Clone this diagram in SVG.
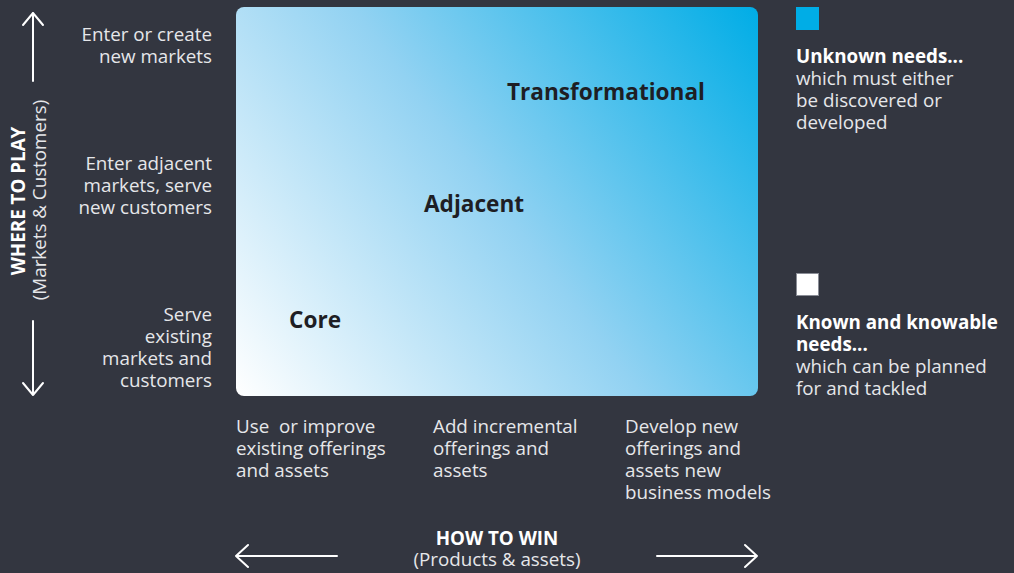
<svg xmlns="http://www.w3.org/2000/svg" width="1014" height="573" viewBox="0 0 1014 573">
<defs>
<linearGradient id="grad" x1="236" y1="396" x2="758" y2="7" gradientUnits="userSpaceOnUse">
<stop offset="0" stop-color="#ffffff"/>
<stop offset="0.5" stop-color="#92d2f2"/>
<stop offset="1" stop-color="#00ade6"/>
</linearGradient>
<style>
text{font-family:"Open Sans","Noto Sans","Liberation Sans",sans-serif;}
.lbl{font-size:18.8px;fill:#e6e7ea;}
.r{text-anchor:end;}
.b{font-weight:bold;fill:#ffffff;}
.zone{font-size:22.6px;font-weight:bold;fill:#1e1e24;}
.ax{stroke:#ffffff;stroke-width:2;fill:none;stroke-linecap:round;stroke-linejoin:round;}
</style>
</defs>
<rect width="1014" height="573" fill="#333640"/>
<g id="matrix">
<rect x="236" y="7" width="522" height="389" rx="8" fill="url(#grad)"/>
<text class="zone" x="507" y="100">Transformational</text>
<text class="zone" x="424" y="212">Adjacent</text>
<text class="zone" x="289" y="328">Core</text>
</g>
<g id="connectors">
<path class="ax" d="M33 81V13M23 25L33 13L43 25"/>
<path class="ax" d="M33 321V395M23 383L33 395L43 383"/>
<path class="ax" d="M337 556H236M248 545L236 556L248 567"/>
<path class="ax" d="M657 556H757M745 545L757 556L745 567"/>
</g>
<g id="y-axis-title">
<text transform="translate(25 201) rotate(-90)" text-anchor="middle" class="lbl b">WHERE TO PLAY</text>
<text transform="translate(46 200) rotate(-90)" text-anchor="middle" class="lbl">(Markets &amp; Customers)</text>
</g>
<g id="y-labels">
<text class="lbl r" x="212" y="41">Enter or create</text>
<text class="lbl r" x="212" y="63">new markets</text>
<text class="lbl r" x="212" y="170">Enter adjacent</text>
<text class="lbl r" x="212" y="192">markets, serve</text>
<text class="lbl r" x="212" y="214">new customers</text>
<text class="lbl r" x="212" y="321">Serve</text>
<text class="lbl r" x="212" y="343">existing</text>
<text class="lbl r" x="212" y="365">markets and</text>
<text class="lbl r" x="212" y="387">customers</text>
</g>
<g id="x-labels">
<text class="lbl" x="236" y="433" xml:space="preserve">Use  or improve</text>
<text class="lbl" x="236" y="455">existing offerings</text>
<text class="lbl" x="236" y="477">and assets</text>
<text class="lbl" x="433" y="433">Add incremental</text>
<text class="lbl" x="433" y="455">offerings and</text>
<text class="lbl" x="433" y="477">assets</text>
<text class="lbl" x="625" y="433">Develop new</text>
<text class="lbl" x="625" y="455">offerings and</text>
<text class="lbl" x="625" y="477">assets new</text>
<text class="lbl" x="625" y="499">business models</text>
</g>
<g id="x-axis-title">
<text class="lbl b" x="497" y="545" text-anchor="middle">HOW TO WIN</text>
<text class="lbl" x="497" y="566" text-anchor="middle">(Products &amp; assets)</text>
</g>
<g id="legend-unknown">
<rect x="796" y="7" width="23" height="23" fill="#00ade6"/>
<text class="lbl b" x="796" y="63">Unknown needs...</text>
<text class="lbl" x="796" y="85">which must either</text>
<text class="lbl" x="796" y="107">be discovered or</text>
<text class="lbl" x="796" y="129">developed</text>
</g>
<g id="legend-known">
<rect x="796.5" y="273.5" width="22" height="22" fill="#ffffff" stroke="#8a8d96" stroke-width="1"/>
<text class="lbl b" x="796" y="329">Known and knowable</text>
<text class="lbl b" x="796" y="351">needs...</text>
<text class="lbl" x="796" y="373">which can be planned</text>
<text class="lbl" x="796" y="395">for and tackled</text>
</g>
</svg>
